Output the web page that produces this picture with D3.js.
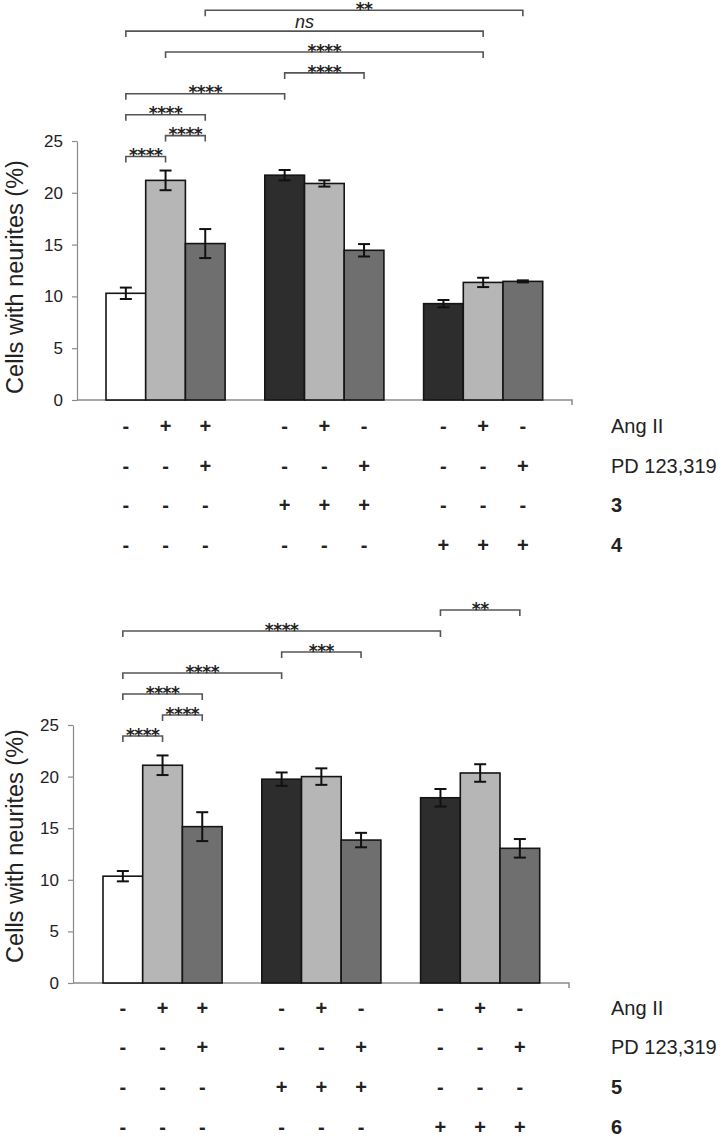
<!DOCTYPE html>
<html><head><meta charset="utf-8">
<script src="https://cdn.jsdelivr.net/npm/d3@7"></script>
<style>body{margin:0;background:#fff} svg{display:block}</style>
</head><body><svg id="c" width="726" height="1137"></svg>
<script>
// ---------- data ----------
const yTicks = [0, 5, 10, 15, 20, 25];
const slots = [0, 1, 2, 4, 5, 6, 8, 9, 10];
const barColors = ['#ffffff', '#b6b6b6', '#6f6f6f', '#2d2d2d', '#b6b6b6', '#6f6f6f', '#2d2d2d', '#b6b6b6', '#6f6f6f'];

const topValues = [10.3, 21.2, 15.1, 21.7, 20.9, 14.45, 9.3, 11.35, 11.45];
const topErrors = [0.55, 0.95, 1.4, 0.5, 0.3, 0.6, 0.35, 0.45, 0.1];
const botValues = [10.35, 21.1, 15.15, 19.75, 20.0, 13.85, 17.95, 20.35, 13.05];
const botErrors = [0.5, 0.95, 1.4, 0.65, 0.8, 0.7, 0.85, 0.85, 0.9];

const angII = ['-', '+', '+', '-', '+', '-', '-', '+', '-'];
const pd = ['-', '-', '+', '-', '-', '+', '-', '-', '+'];
const cmpFirst = ['-', '-', '-', '+', '+', '+', '-', '-', '-'];
const cmpSecond = ['-', '-', '-', '-', '-', '-', '+', '+', '+'];
const topRowLabels = ['Ang II', 'PD 123,319', '3', '4'];
const botRowLabels = ['Ang II', 'PD 123,319', '5', '6'];

// significance brackets: [from bar, to bar, label], listed bottom to top
const topSig = [[0, 1, '****'], [1, 2, '****'], [0, 2, '****'], [0, 3, '****'], [3, 5, '****'], [1, 7, '****'], [0, 7, 'ns'], [2, 8, '**']];
const botSig = [[0, 1, '****'], [1, 2, '****'], [0, 2, '****'], [0, 3, '****'], [3, 5, '***'], [0, 6, '****'], [6, 8, '**']];

const yLabel = 'Cells with neurites (%)';

// ---------- layout ----------
const svg = d3.select('#c');
const FONT = 'Liberation Sans, Arial, sans-serif';

const charts = [
  {values: topValues, errors: topErrors, sig: topSig, rowLabels: topRowLabels,
   yBase: 400, yTop: 141, axisX: 77, axisEnd: 572, barLeft: 106, slotW: 39.7,
   sig0: 156.5, sigStep: 20.9, labelY: 277, rowY: [433, 473, 512, 552]},
  {values: botValues, errors: botErrors, sig: botSig, rowLabels: botRowLabels,
   yBase: 983, yTop: 725, axisX: 73, axisEnd: 569, barLeft: 103, slotW: 39.7,
   sig0: 736, sigStep: 21, labelY: 846, rowY: [1015, 1054, 1094, 1134]}
];

charts.forEach(cfg => {
  const g = svg.append('g');
  const y = d3.scaleLinear().domain([0, 25]).range([cfg.yBase, cfg.yTop]);
  const x = d3.scaleBand().domain(d3.range(11)).range([cfg.barLeft, cfg.barLeft + 11 * cfg.slotW]).padding(0);
  const cx = i => x(slots[i]) + x.bandwidth() / 2;

  // y axis
  const ya = g.append('g').attr('transform', `translate(${cfg.axisX},0)`)
    .call(d3.axisLeft(y).tickValues(yTicks).tickSize(5).tickSizeOuter(0).tickPadding(9));
  ya.selectAll('path, line').attr('stroke', '#8a8a8a').attr('stroke-width', 1.2);
  ya.selectAll('text').attr('font-family', FONT).attr('font-size', 17).attr('fill', '#222');

  // x axis line
  g.append('path')
    .attr('d', `M${cfg.axisX},${y(0)}H${cfg.axisEnd}v5`)
    .attr('fill', 'none').attr('stroke', '#8a8a8a').attr('stroke-width', 1.5);

  // y label
  g.append('text')
    .attr('transform', `translate(23,${cfg.labelY}) rotate(-90)`)
    .attr('text-anchor', 'middle').attr('font-family', FONT).attr('font-size', 23.5).attr('fill', '#222')
    .text(yLabel);

  // bars
  g.selectAll('rect.bar').data(cfg.values).join('rect')
    .attr('x', (d, i) => x(slots[i]))
    .attr('y', d => y(d))
    .attr('width', x.bandwidth())
    .attr('height', d => y(0) - y(d))
    .attr('fill', (d, i) => barColors[i])
    .attr('stroke', '#151515').attr('stroke-width', 1.6);

  // error bars
  const eb = g.selectAll('g.eb').data(cfg.values).join('g');
  eb.append('line')
    .attr('x1', (d, i) => cx(i)).attr('x2', (d, i) => cx(i))
    .attr('y1', (d, i) => y(d - cfg.errors[i])).attr('y2', (d, i) => y(d + cfg.errors[i]))
    .attr('stroke', '#111').attr('stroke-width', 2);
  [-1, 1].forEach(s => {
    eb.append('line')
      .attr('x1', (d, i) => cx(i) - 6).attr('x2', (d, i) => cx(i) + 6)
      .attr('y1', (d, i) => y(d + s * cfg.errors[i])).attr('y2', (d, i) => y(d + s * cfg.errors[i]))
      .attr('stroke', '#111').attr('stroke-width', 2);
  });

  // significance brackets
  cfg.sig.forEach((s, lvl) => {
    const xa = cx(s[0]), xb = cx(s[1]);
    const ly = cfg.sig0 - lvl * cfg.sigStep;
    g.append('path')
      .attr('d', `M${xa},${ly + 6}V${ly}H${xb}V${ly + 6}`)
      .attr('fill', 'none').attr('stroke', '#555').attr('stroke-width', 1.6);
    const t = g.append('text')
      .attr('x', (xa + xb) / 2)
      .attr('text-anchor', 'middle').attr('fill', '#222')
      .text(s[2]);
    if (s[2] === 'ns') {
      t.attr('y', ly - 3).attr('font-size', 18).attr('font-style', 'italic').attr('font-family', FONT);
    } else {
      t.attr('y', ly + 4.6).attr('font-size', 17).attr('font-weight', 'bold')
        .attr('font-family', 'DejaVu Sans, sans-serif').attr('letter-spacing', -0.5);
    }
  });

  // treatment rows
  const rows = [angII, pd, cmpFirst, cmpSecond];
  rows.forEach((row, r) => {
    g.selectAll(null).data(row).join('text')
      .attr('x', (d, i) => cx(i)).attr('y', cfg.rowY[r])
      .attr('text-anchor', 'middle').attr('font-family', FONT).attr('font-size', 20)
      .attr('font-weight', 'bold').attr('fill', '#222')
      .text(d => d);
    g.append('text')
      .attr('x', 611).attr('y', cfg.rowY[r])
      .attr('font-family', FONT).attr('font-size', 20)
      .attr('font-weight', r >= 2 ? 'bold' : 'normal').attr('fill', '#222')
      .text(cfg.rowLabels[r]);
  });
});
</script>
</body></html>
